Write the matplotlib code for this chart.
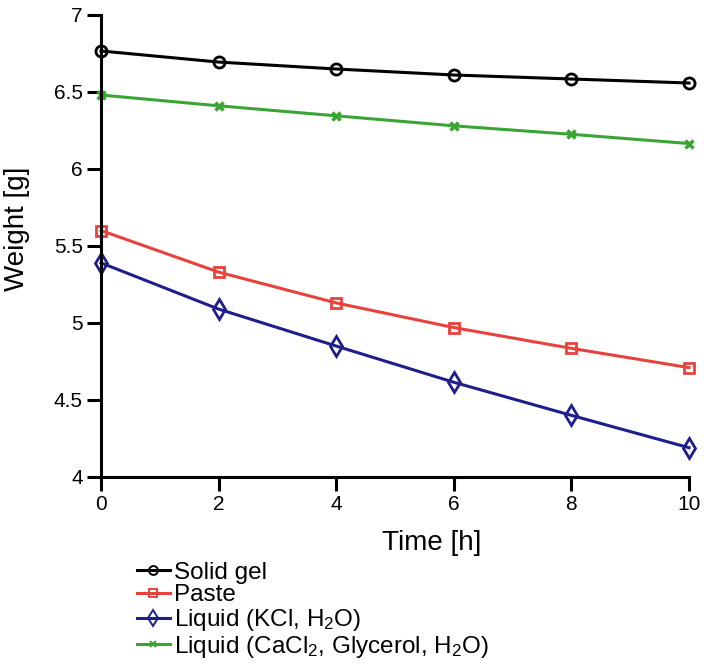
import matplotlib.pyplot as plt

plt.rcParams['font.family'] = ['Liberation Sans', 'DejaVu Sans']
plt.rcParams['mathtext.default'] = 'regular'

time_h = [0, 2, 4, 6, 8, 10]
solid_gel = [6.766, 6.694, 6.649, 6.61, 6.584, 6.558]
paste = [5.60, 5.33, 5.13, 4.97, 4.835, 4.71]
liquid_kcl = [5.39, 5.09, 4.85, 4.615, 4.40, 4.19]
liquid_cacl2 = [6.48, 6.41, 6.345, 6.28, 6.225, 6.165]

fig = plt.figure(figsize=(7.08, 6.67), dpi=100)
ax = fig.add_axes([0.1427, 0.2849, 0.8305, 0.6927])

lw = 2.2
ax.plot(time_h, solid_gel, color='black', lw=lw, marker='o', ms=8, mfc='none', mew=2, label='Solid gel', clip_on=False, zorder=4)
ax.plot(time_h, paste, color='#e8423d', lw=lw, marker='s', ms=6.5, mfc='none', mew=2, label='Paste', clip_on=False)
ax.plot(time_h, liquid_kcl, color='#1e1f8a', lw=lw, marker='d', ms=10, mfc='none', mew=2, label='Liquid (KCl, H$_2$O)', clip_on=False)
ax.plot(time_h, liquid_cacl2, color='#3aa535', lw=lw, marker='x', ms=6, mew=2.5, label='Liquid (CaCl$_2$, Glycerol, H$_2$O)', clip_on=False)

ax.set_xlim(0, 10)
ax.set_ylim(4, 7)
ax.set_xticks([0, 2, 4, 6, 8, 10])
ax.set_yticks([4, 4.5, 5, 5.5, 6, 6.5, 7])
ax.set_yticklabels(['4', '4.5', '5', '5.5', '6', '6.5', '7'])
for s in ['top', 'right']:
    ax.spines[s].set_visible(False)
for s in ['left', 'bottom']:
    ax.spines[s].set_linewidth(2.2)
ax.tick_params(direction='out', length=10, width=2.2, labelsize=15, pad=3)
ax.set_xlabel('Time [h]', fontsize=20)
ax.set_ylabel('Weight [g]', fontsize=20)
ax.xaxis.set_label_coords(0.563, -0.115)
ax.yaxis.set_label_coords(-0.12, 0.538)

leg = fig.legend(loc='upper left', bbox_to_anchor=(0.1935, 0.158), frameon=False, fontsize=17.5,
                 handlelength=1.35, handletextpad=0.16, labelspacing=0.03, borderaxespad=0, borderpad=0,
                 markerscale=0.8)
for h in leg.legend_handles:
    h.set_markeredgewidth(1.4)

fig.savefig('out.png', dpi=100)
